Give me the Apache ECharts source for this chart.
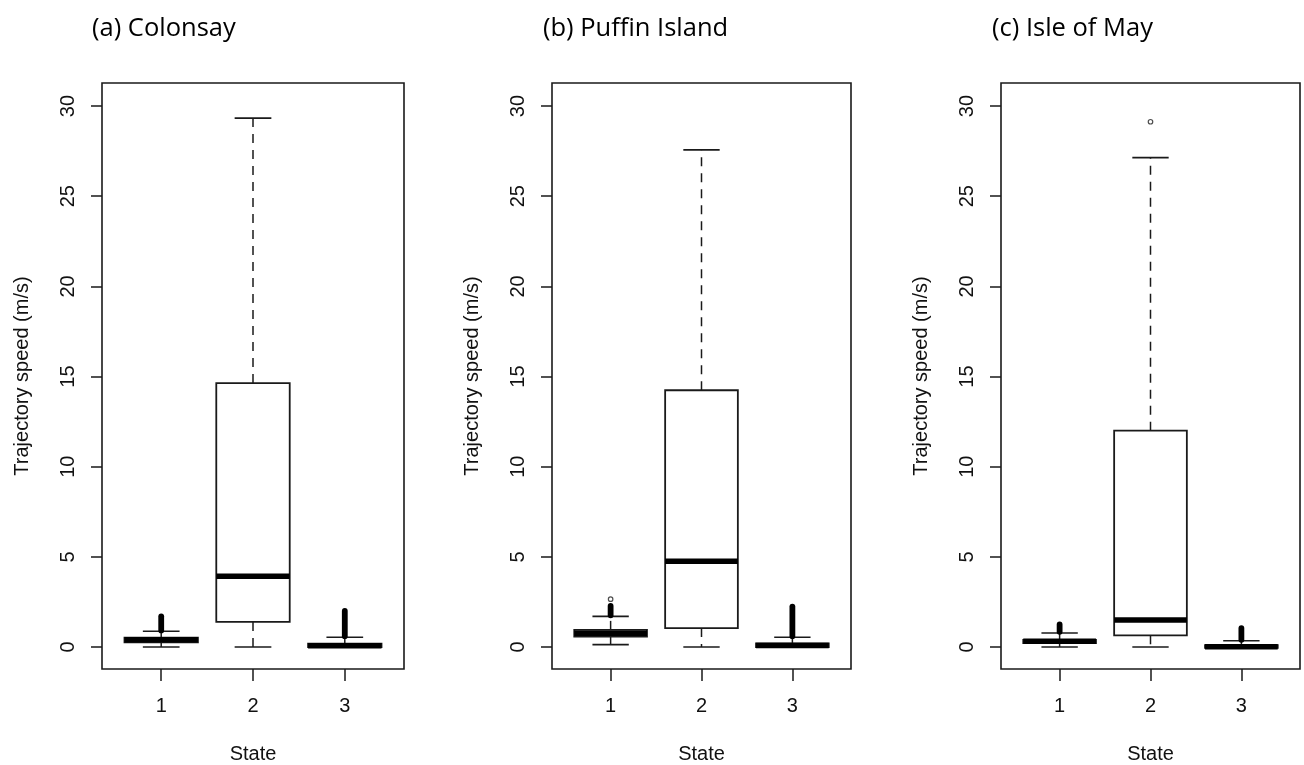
<!DOCTYPE html>
<html>
<head>
<meta charset="utf-8">
<script src="https://cdn.jsdelivr.net/npm/echarts@6/dist/echarts.min.js"></script>
<style>
html,body{margin:0;padding:0;background:#fff;}
#chart{width:1304px;height:765px;}
</style>
</head>
<body>
<div id="chart"></div>
<script>
// ---------- data ----------
const states = ['1', '2', '3'];
const stateX = [1, 2, 3];
const yTicks = [0, 5, 10, 15, 20, 25, 30];
const panelTitles = ['(a) Colonsay', '(b) Puffin Island', '(c) Isle of May'];
const yAxisTitle = 'Trajectory speed (m/s)';
const xAxisTitle = 'State';

// per state: [lower whisker, Q1, median, Q3, upper whisker]
const colonsayStats = [[0, 0.26, 0.40, 0.52, 0.87], [0, 1.39, 3.92, 14.64, 29.33], [0, 0.00, 0.07, 0.19, 0.54]];
const puffinStats   = [[0.13, 0.57, 0.76, 0.95, 1.70], [0, 1.05, 4.75, 14.24, 27.57], [0, 0.00, 0.08, 0.20, 0.54]];
const mayStats      = [[0, 0.22, 0.32, 0.40, 0.78], [0, 0.65, 1.50, 12.00, 27.14], [-0.05, -0.05, 0.02, 0.10, 0.35]];

// dense outlier columns (overlapping circles): [state, lowest, highest]
const colonsayOutlierSpans = [[1, 0.92, 1.70], [3, 0.60, 2.00]];
const puffinOutlierSpans   = [[1, 1.76, 2.28], [3, 0.60, 2.24]];
const mayOutlierSpans      = [[1, 0.84, 1.25], [3, 0.40, 1.05]];

// isolated outliers: [state, value]
const colonsayOutliers = [];
const puffinOutliers   = [[1, 2.65]];
const mayOutliers      = [[2, 29.13]];

// ---------- layout ----------
const panels = [
  {stats: colonsayStats, spans: colonsayOutlierSpans, pts: colonsayOutliers, left: 102, right: 404, titleX: 92},
  {stats: puffinStats,   spans: puffinOutlierSpans,   pts: puffinOutliers,   left: 552, right: 851, titleX: 543},
  {stats: mayStats,      spans: mayOutlierSpans,      pts: mayOutliers,      left: 1001, right: 1300, titleX: 992}
];
const TOP = 83, BOTTOM = 669;
const INK = '#1a1a1a';
const FONT = 'Liberation Sans, Arial, sans-serif';
const FS = 20;

const chart = echarts.init(document.getElementById('chart'), null, {renderer: 'canvas'});

const grid = [], xAxis = [], yAxis = [], series = [], graphic = [];

function boxRender(params, api) {
  const x = api.value(0);
  const lo = api.value(1), q1 = api.value(2), med = api.value(3), q3 = api.value(4), hi = api.value(5);
  const boxW = api.size([0.8, 0])[0];
  const capW = api.size([0.4, 0])[0];
  const pLo = api.coord([x, lo]), pQ1 = api.coord([x, q1]), pMed = api.coord([x, med]);
  const pQ3 = api.coord([x, q3]), pHi = api.coord([x, hi]);
  const cx = pMed[0];
  const dash = {stroke: INK, lineWidth: 1.5, lineDash: [9, 7]};
  const solid = {stroke: INK, lineWidth: 1.6};
  return {
    type: 'group',
    children: [
      {type: 'line', shape: {x1: cx, y1: pQ3[1], x2: cx, y2: pHi[1]}, style: dash},
      {type: 'line', shape: {x1: cx, y1: pQ1[1], x2: cx, y2: pLo[1]}, style: dash},
      {type: 'line', shape: {x1: cx - capW / 2, y1: pHi[1], x2: cx + capW / 2, y2: pHi[1]}, style: solid},
      {type: 'line', shape: {x1: cx - capW / 2, y1: pLo[1], x2: cx + capW / 2, y2: pLo[1]}, style: solid},
      {type: 'rect', shape: {x: cx - boxW / 2, y: pQ3[1], width: boxW, height: pQ1[1] - pQ3[1]},
        style: {fill: '#fff', stroke: INK, lineWidth: 1.8}},
      {type: 'line', shape: {x1: cx - boxW / 2, y1: pMed[1], x2: cx + boxW / 2, y2: pMed[1]},
        style: {stroke: '#000', lineWidth: 5.5}}
    ]
  };
}

function spanRender(params, api) {
  const x = api.value(0);
  const a = api.coord([x, api.value(1)]);
  const b = api.coord([x, api.value(2)]);
  return {
    type: 'line',
    shape: {x1: a[0], y1: a[1], x2: b[0], y2: b[1]},
    style: {stroke: '#000', lineWidth: 5.8, lineCap: 'round'}
  };
}

panels.forEach((p, i) => {
  grid.push({
    left: p.left, top: TOP, width: p.right - p.left, height: BOTTOM - TOP,
    show: true, borderColor: INK, borderWidth: 1.6, backgroundColor: 'transparent',
    containLabel: false, outerBoundsMode: 'none'
  });
  xAxis.push({
    type: 'value', gridIndex: i, min: 0.355, max: 3.645, position: 'bottom',
    name: xAxisTitle, nameLocation: 'middle', nameGap: 75,
    nameTextStyle: {fontFamily: FONT, fontSize: FS, color: '#111'},
    axisLine: {show: false, onZero: false},
    splitLine: {show: false},
    axisTick: {show: true, customValues: stateX, length: 12, lineStyle: {color: INK, width: 1.5}},
    axisLabel: {show: true, customValues: stateX, margin: 27, fontFamily: FONT, fontSize: FS, color: '#111',
      formatter: v => states[Math.round(v) - 1]}
  });
  yAxis.push({
    type: 'value', gridIndex: i, min: -1.22, max: 31.28, position: 'left',
    name: yAxisTitle, nameLocation: 'middle', nameGap: 70,
    nameTextStyle: {fontFamily: FONT, fontSize: FS, color: '#111'},
    axisLine: {show: false, onZero: false},
    splitLine: {show: false},
    axisTick: {show: true, customValues: yTicks, length: 11, lineStyle: {color: INK, width: 1.5}},
    axisLabel: {show: true, customValues: yTicks, rotate: 90, margin: 24, fontFamily: FONT, fontSize: FS, color: '#111'}
  });
  series.push({
    type: 'custom', xAxisIndex: i, yAxisIndex: i,
    data: p.stats.map((s, k) => [stateX[k]].concat(s)),
    encode: {x: 0, y: [1, 2, 3, 4, 5]},
    renderItem: boxRender, silent: true, z: 2
  });
  series.push({
    type: 'custom', xAxisIndex: i, yAxisIndex: i,
    data: p.spans,
    encode: {x: 0, y: [1, 2]},
    renderItem: spanRender, silent: true, z: 3
  });
  series.push({
    type: 'scatter', xAxisIndex: i, yAxisIndex: i,
    data: p.pts,
    symbol: 'circle', symbolSize: 4.5,
    itemStyle: {color: 'rgba(0,0,0,0)', borderColor: '#222', borderWidth: 1.2},
    silent: true, z: 4
  });
  graphic.push({
    type: 'text', left: p.titleX, top: 16,
    style: {text: panelTitles[i], fontFamily: 'Open Sans, Noto Sans, sans-serif', fontSize: 25.5, fill: '#000'}
  });
});

chart.setOption({
  animation: false,
  backgroundColor: '#fff',
  grid, xAxis, yAxis, series, graphic
});
</script>
</body>
</html>
